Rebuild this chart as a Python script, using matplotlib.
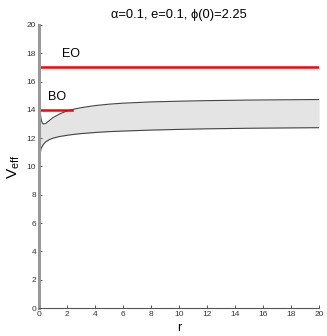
import numpy as np
from matplotlib import pyplot as plt

plt.rcParams['font.family'] = ['Liberation Sans', 'DejaVu Sans']

# r grid shared by both branches of the effective potential
r = [0.01, 0.03, 0.06, 0.1, 0.15, 0.25, 0.35, 0.5, 0.75, 1.0, 1.5, 2.0, 2.5,
     3.0, 4.0, 5.0, 6.0, 8.0, 10.0, 12.0, 15.0, 20.0]
v_upper = [22.0, 17.0, 14.6, 13.8, 13.35, 13.05, 13.0, 13.05, 13.25, 13.45, 13.72,
           13.92, 14.05, 14.15, 14.3, 14.4, 14.47, 14.56, 14.61, 14.65, 14.69, 14.73]
v_lower = [-1.0, 8.0, 10.3, 11.0, 11.25, 11.45, 11.6, 11.75, 11.9, 12.0, 12.12,
           12.2, 12.27, 12.32, 12.4, 12.46, 12.5, 12.57, 12.62, 12.66, 12.7, 12.74]

eo_level = 17.0
bo_level = 14.0
bo_end = 2.36

fig = plt.figure(figsize=(3.27, 3.36), dpi=100)
ax = fig.add_axes([0.119, 0.083, 0.857, 0.843])

ax.fill_between(r, v_lower, v_upper, color='#e4e4e4', lw=0)
ax.plot(r, v_upper, color='#444444', lw=0.8)
ax.plot(r, v_lower, color='#444444', lw=0.8)

ax.plot([0, 20], [eo_level, eo_level], color='red', lw=1.8)
ax.plot([0, bo_end], [bo_level, bo_level], color='red', lw=1.8)
ax.text(2.3, 17.95, 'EO', fontsize=9, va='center', ha='center')
ax.text(1.3, 14.9, 'BO', fontsize=9, va='center', ha='center')

ax.set_xlim(0, 20)
ax.set_ylim(0, 20)
ax.set_xticks(np.arange(0, 21, 2))
ax.set_yticks(np.arange(0, 21, 2))
ax.tick_params(direction='in', length=2.5, width=0.6, labelsize=6, colors='#333333', pad=2)
for s in ['top', 'right']:
    ax.spines[s].set_visible(False)
ax.spines['bottom'].set_color('#555555')
ax.spines['bottom'].set_linewidth(0.8)
ax.spines['left'].set_color('#999999')
ax.spines['left'].set_linewidth(2.2)

ax.set_xlabel('r', fontsize=9, labelpad=3)
ax.set_ylabel(r'V$_{\mathregular{eff}}$', fontsize=11, labelpad=3)
ax.set_title('α=0.1, e=0.1, ϕ(0)=2.25', fontsize=9.3, pad=5)

fig.savefig('out.png', dpi=100)
